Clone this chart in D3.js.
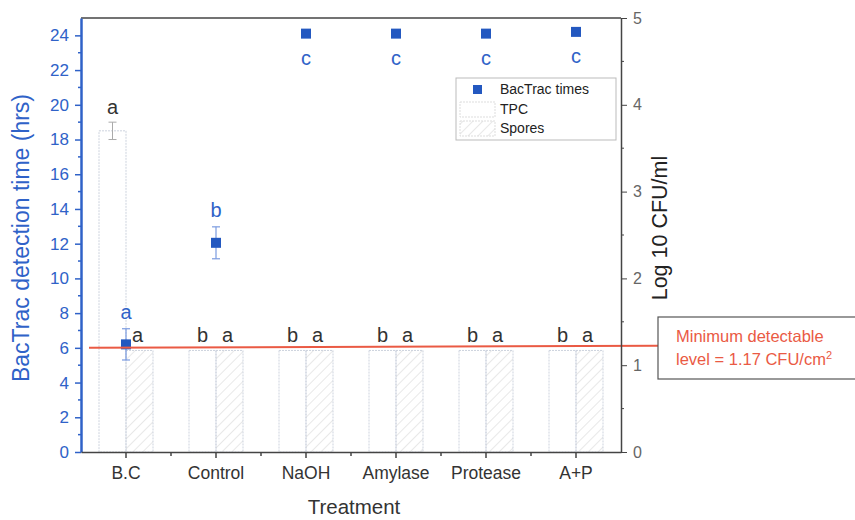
<!DOCTYPE html>
<html>
<head>
<meta charset="utf-8">
<script src="https://cdn.jsdelivr.net/npm/d3@7"></script>
<style>
  body { margin: 0; background: #fff; }
  text { font-family: Arial, "Liberation Sans", sans-serif; }
</style>
</head>
<body>
<div id="chart"></div>
<script>
// Treatments on the x axis
const categories = ["B.C", "Control", "NaOH", "Amylase", "Protease", "A+P"];

// BacTrac detection times (hrs, left axis)
const bactracTimes = [6.2, 12.05, 24.1, 24.1, 24.1, 24.2];
const bactracErr = [0.9, 0.92, 0, 0, 0, 0];
const bactracLetters = ["a", "b", "c", "c", "c", "c"];

// Log10 CFU/ml (right axis)
const tpcValues = [3.7, 1.17, 1.17, 1.17, 1.17, 1.17];
const tpcErr = [0.1, 0, 0, 0, 0, 0];
const tpcLetters = ["a", "b", "b", "b", "b", "b"];
const sporeValues = [1.17, 1.17, 1.17, 1.17, 1.17, 1.17];
const sporeLetters = ["a", "a", "a", "a", "a", "a"];

// Minimum detectable level
const detectLimit = 1.2;

const leftTicks = [0, 2, 4, 6, 8, 10, 12, 14, 16, 18, 20, 22, 24];
const rightTicks = [0, 1, 2, 3, 4, 5];

const width = 855, height = 520;
const plotLeft = 81, plotRight = 621, plotTop = 18, plotBottom = 452;
const blue = "#2f62c8";
const pointBlue = "#2358c0";
const red = "#ea5a44";
const axisGrey = "#444";

const svg = d3.select("#chart").append("svg")
    .attr("width", width)
    .attr("height", height);

// hatch pattern for spores bars
const defs = svg.append("defs");
const pat = defs.append("pattern")
    .attr("id", "hatch")
    .attr("patternUnits", "userSpaceOnUse")
    .attr("width", 7).attr("height", 7)
    .attr("patternTransform", "rotate(45)");
pat.append("line")
    .attr("x1", 0).attr("y1", 0).attr("x2", 0).attr("y2", 7)
    .attr("stroke", "#d2d2d2").attr("stroke-width", 1);

// scales
const x = d3.scaleBand().domain(categories).range([plotLeft, plotRight]);
const sub = d3.scaleBand().domain(["TPC", "Spores"]).range([-27, 27]);
const yLeft = d3.scaleLinear().domain([0, 25]).range([plotBottom, plotTop]);
const yRight = d3.scaleLinear().domain([0, 5]).range([plotBottom, plotTop]);
const cx = c => x(c) + x.bandwidth() / 2;

// bars
const barData = categories.map((c, i) => ({
    c: c, tpc: tpcValues[i], tpcErr: tpcErr[i], spores: sporeValues[i],
    tpcL: tpcLetters[i], sporeL: sporeLetters[i]
}));

const g = svg.append("g");

g.selectAll("rect.tpc")
    .data(barData)
    .enter().append("rect")
    .attr("class", "tpc")
    .attr("x", d => cx(d.c) + sub("TPC"))
    .attr("y", d => yRight(d.tpc))
    .attr("width", sub.bandwidth())
    .attr("height", d => plotBottom - yRight(d.tpc))
    .attr("fill", "#fff")
    .attr("stroke", "#cdd3de")
    .attr("stroke-width", 1)
    .attr("stroke-dasharray", "2,1");

g.selectAll("rect.spores")
    .data(barData)
    .enter().append("rect")
    .attr("class", "spores")
    .attr("x", d => cx(d.c) + sub("Spores"))
    .attr("y", d => yRight(d.spores))
    .attr("width", sub.bandwidth())
    .attr("height", d => plotBottom - yRight(d.spores))
    .attr("fill", "url(#hatch)")
    .attr("stroke", "#cdd3de")
    .attr("stroke-width", 1)
    .attr("stroke-dasharray", "2,1");

// TPC error bars
barData.filter(d => d.tpcErr > 0).forEach(d => {
    const bx = cx(d.c) + sub("TPC") + sub.bandwidth() / 2;
    g.append("line")
        .attr("x1", bx).attr("x2", bx)
        .attr("y1", yRight(d.tpc + d.tpcErr)).attr("y2", yRight(d.tpc - d.tpcErr))
        .attr("stroke", "#aaa");
    [d.tpc + d.tpcErr, d.tpc - d.tpcErr].forEach(v => {
        g.append("line")
            .attr("x1", bx - 4).attr("x2", bx + 4)
            .attr("y1", yRight(v)).attr("y2", yRight(v))
            .attr("stroke", "#aaa");
    });
});

// bar letters
g.selectAll("text.tpcL")
    .data(barData)
    .enter().append("text")
    .attr("x", d => cx(d.c) + sub("TPC") + sub.bandwidth() / 2)
    .attr("y", d => yRight(d.tpc + d.tpcErr) - 8)
    .attr("text-anchor", "middle")
    .attr("font-size", 20)
    .attr("fill", "#333")
    .text(d => d.tpcL);

g.selectAll("text.sporeL")
    .data(barData)
    .enter().append("text")
    .attr("x", d => cx(d.c) + sub("Spores") + sub.bandwidth() / 2 - 2)
    .attr("y", d => yRight(d.spores) - 8)
    .attr("text-anchor", "middle")
    .attr("font-size", 20)
    .attr("fill", "#333")
    .text(d => d.sporeL);

// BacTrac points
const ptData = categories.map((c, i) => ({
    c: c, v: bactracTimes[i], e: bactracErr[i], l: bactracLetters[i]
}));

ptData.filter(d => d.e > 0).forEach(d => {
    const px = cx(d.c);
    g.append("line")
        .attr("x1", px).attr("x2", px)
        .attr("y1", yLeft(d.v + d.e)).attr("y2", yLeft(d.v - d.e))
        .attr("stroke", "#7b9be0").attr("stroke-width", 1.2);
    [d.v + d.e, d.v - d.e].forEach(v => {
        g.append("line")
            .attr("x1", px - 4).attr("x2", px + 4)
            .attr("y1", yLeft(v)).attr("y2", yLeft(v))
            .attr("stroke", "#7b9be0").attr("stroke-width", 1.2);
    });
});

// minimum detectable line
svg.append("line")
    .attr("x1", 89).attr("x2", 658)
    .attr("y1", yRight(detectLimit)).attr("y2", yRight(detectLimit) - 2)
    .attr("stroke", red)
    .attr("stroke-width", 2);

g.selectAll("rect.pt")
    .data(ptData)
    .enter().append("rect")
    .attr("x", d => cx(d.c) - 5)
    .attr("y", d => yLeft(d.v) - 5)
    .attr("width", 10).attr("height", 10)
    .attr("fill", pointBlue);

g.selectAll("text.ptL")
    .data(ptData)
    .enter().append("text")
    .attr("x", d => cx(d.c))
    .attr("y", d => d.v > 22 ? yLeft(d.v) + 31 : yLeft(d.v + d.e) - 10)
    .attr("text-anchor", "middle")
    .attr("font-size", 20)
    .attr("fill", blue)
    .text(d => d.l);

// frame
svg.append("line")
    .attr("x1", plotLeft).attr("x2", plotRight).attr("y1", plotTop).attr("y2", plotTop)
    .attr("stroke", axisGrey).attr("stroke-width", 1.5);

// left axis
const leftAxis = svg.append("g")
    .attr("transform", `translate(${plotLeft},0)`)
    .call(d3.axisLeft(yLeft).tickValues(leftTicks).tickSize(6).tickPadding(6).tickSizeOuter(0));
leftAxis.selectAll(".tick line").attr("stroke", blue).attr("stroke-width", 1.5);
leftAxis.selectAll("text").attr("fill", blue).attr("font-size", 17)
    .attr("font-family", "Arial, 'Liberation Sans', sans-serif");
leftAxis.select(".domain").attr("stroke", blue).attr("stroke-width", 2.5);
leftAxis.selectAll(".minor")
    .data(d3.range(1, 25, 2))
    .enter().append("line")
    .attr("class", "minor")
    .attr("x1", 0).attr("x2", -3)
    .attr("y1", d => yLeft(d)).attr("y2", d => yLeft(d))
    .attr("stroke", blue).attr("stroke-width", 1.5);

// right axis
const rightAxis = svg.append("g")
    .attr("transform", `translate(${plotRight},0)`)
    .call(d3.axisRight(yRight).tickValues(rightTicks).tickFormat(d3.format("d"))
        .tickSize(6).tickPadding(6).tickSizeOuter(0));
rightAxis.selectAll(".tick line").attr("stroke", axisGrey);
rightAxis.selectAll("text").attr("fill", "#666").attr("font-size", 16)
    .attr("font-family", "Arial, 'Liberation Sans', sans-serif");
rightAxis.select(".domain").attr("stroke", axisGrey).attr("stroke-width", 1.5);
rightAxis.selectAll(".minor")
    .data(d3.range(0.5, 5, 1))
    .enter().append("line")
    .attr("class", "minor")
    .attr("x1", 0).attr("x2", 3)
    .attr("y1", d => yRight(d)).attr("y2", d => yRight(d))
    .attr("stroke", axisGrey);

// bottom axis
const xAxis = svg.append("g")
    .attr("transform", `translate(0,${plotBottom})`)
    .call(d3.axisBottom(x).tickSize(6).tickPadding(9).tickSizeOuter(0));
xAxis.selectAll(".tick line").attr("stroke", axisGrey).attr("stroke-width", 1.5);
xAxis.selectAll("text").attr("fill", "#333").attr("font-size", 17.5)
    .attr("font-family", "Arial, 'Liberation Sans', sans-serif");
xAxis.select(".domain").attr("stroke", axisGrey).attr("stroke-width", 1.5);
xAxis.selectAll(".minor")
    .data(categories.slice(1))
    .enter().append("line")
    .attr("class", "minor")
    .attr("x1", d => x(d)).attr("x2", d => x(d))
    .attr("y1", 0).attr("y2", 4)
    .attr("stroke", axisGrey).attr("stroke-width", 1.5);

// axis titles
svg.append("text")
    .attr("transform", "translate(29,238) rotate(-90)")
    .attr("text-anchor", "middle")
    .attr("font-size", 23)
    .attr("fill", blue)
    .text("BacTrac detection time (hrs)");

svg.append("text")
    .attr("transform", "translate(667,228) rotate(-90)")
    .attr("text-anchor", "middle")
    .attr("font-size", 21.5)
    .attr("fill", "#222")
    .text("Log 10 CFU/ml");

svg.append("text")
    .attr("x", (plotLeft + plotRight) / 2 + 3)
    .attr("y", 514)
    .attr("text-anchor", "middle")
    .attr("font-size", 20.5)
    .attr("fill", "#333")
    .text("Treatment");

// legend
const lg = svg.append("g").attr("transform", "translate(456,78)");
lg.append("rect")
    .attr("width", 160).attr("height", 62)
    .attr("fill", "#fff").attr("stroke", "#bbb");
lg.append("rect")
    .attr("x", 17).attr("y", 7).attr("width", 9).attr("height", 9)
    .attr("fill", pointBlue);
lg.append("rect")
    .attr("x", 4).attr("y", 24).attr("width", 35).attr("height", 15)
    .attr("fill", "#fff").attr("stroke", "#ddd").attr("stroke-dasharray", "2,1");
lg.append("rect")
    .attr("x", 4).attr("y", 43).attr("width", 35).attr("height", 15)
    .attr("fill", "url(#hatch)").attr("stroke", "#ddd").attr("stroke-dasharray", "2,1");
const legendLabels = ["BacTrac times", "TPC", "Spores"];
lg.selectAll("text.lbl")
    .data(legendLabels)
    .enter().append("text")
    .attr("x", 44)
    .attr("y", (d, i) => 16 + i * 19.5)
    .attr("font-size", 14)
    .attr("fill", "#222")
    .text(d => d);

// annotation box
const ann = svg.append("g").attr("transform", "translate(658,317)");
ann.append("rect")
    .attr("width", 210).attr("height", 62)
    .attr("fill", "#fff").attr("stroke", "#555").attr("stroke-width", 1.2);
ann.append("text")
    .attr("x", 18).attr("y", 25)
    .attr("font-size", 16.5)
    .attr("font-family", "'Open Sans', sans-serif")
    .attr("fill", red)
    .text("Minimum detectable");
const t2 = ann.append("text")
    .attr("x", 18).attr("y", 48)
    .attr("font-size", 16.5)
    .attr("font-family", "'Open Sans', sans-serif")
    .attr("fill", red)
    .text("level = 1.17 CFU/cm");
t2.append("tspan").attr("dy", -6).attr("font-size", 11).text("2");
</script>
</body>
</html>
